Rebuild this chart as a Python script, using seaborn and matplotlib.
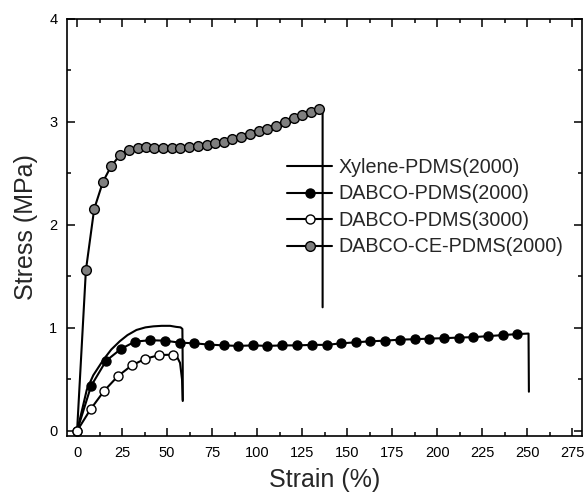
import matplotlib
matplotlib.use("Agg")
import matplotlib.pyplot as plt
import seaborn as sns
import pandas as pd
import numpy as np

# ---------------- data ----------------
xylene_strain = [0, 1.5, 3, 5.4, 9, 14.6, 19, 23.7, 28, 33, 38, 42.4, 47, 51.7, 55, 57.5, 58.5, 58.7, 58.7]
xylene_stress = [0, 0.11, 0.22, 0.40, 0.54, 0.69, 0.79, 0.87, 0.93, 0.98, 1.005, 1.015, 1.02, 1.02, 1.01, 1.005, 0.99, 0.6, 0.29]

dabco2000_strain = [0, 7.8, 16.1, 24.4, 32.2, 40.6, 48.7, 56.9, 65.2, 73.1, 81.5, 89.4, 97.8, 105.7,
                    114.0, 122.2, 130.6, 138.7, 146.7, 155.0, 163.0, 171.3, 179.4, 187.8, 195.7,
                    203.9, 212.0, 220.2, 228.2, 236.5, 244.6]
dabco2000_stress = [0, 0.437, 0.68, 0.796, 0.867, 0.88, 0.876, 0.857, 0.85, 0.838, 0.83, 0.825, 0.83, 0.825,
                    0.83, 0.83, 0.835, 0.835, 0.85, 0.86, 0.87, 0.876, 0.886, 0.89, 0.896,
                    0.90, 0.906, 0.91, 0.92, 0.93, 0.94]
dabco2000_tail_strain = [250.8, 251.0]
dabco2000_tail_stress = [0.945, 0.38]

dabco3000_strain = [0, 7.5, 15.1, 22.6, 30.3, 37.9, 45.6, 53.2]
dabco3000_stress = [0, 0.21, 0.39, 0.53, 0.635, 0.70, 0.736, 0.74]
dabco3000_tail_strain = [55.5, 57.2, 58.3, 58.7]
dabco3000_tail_stress = [0.72, 0.66, 0.50, 0.30]

ce_head_strain = [0]
ce_head_stress = [0]
ce_strain = [4.9, 9.5, 14.4, 18.9, 23.9, 28.9, 33.7, 38.3, 43.0, 47.9, 52.5, 57.4, 62.4, 67.2,
             72.0, 76.7, 81.7, 86.3, 91.3, 96.1, 100.9, 105.7, 110.7, 115.6, 120.4, 125.0, 129.8, 134.6]
ce_stress = [1.56, 2.155, 2.42, 2.57, 2.68, 2.73, 2.75, 2.755, 2.75, 2.745, 2.745, 2.75, 2.755, 2.77,
             2.78, 2.80, 2.81, 2.83, 2.85, 2.88, 2.91, 2.93, 2.96, 3.00, 3.04, 3.07, 3.10, 3.13]
ce_tail_strain = [136.4, 136.4]
ce_tail_stress = [3.13, 1.2]

labels = ["Xylene-PDMS(2000)", "DABCO-PDMS(2000)", "DABCO-PDMS(3000)", "DABCO-CE-PDMS(2000)"]
x_ticks = [0, 25, 50, 75, 100, 125, 150, 175, 200, 225, 250, 275]
y_ticks = [0, 1, 2, 3, 4]

# ---------------- style ----------------
sns.set_theme(style="ticks")
plt.rcParams["font.family"] = ["Liberation Sans", "DejaVu Sans"]

fig = plt.figure(figsize=(5.87, 4.97), dpi=100)
ax = fig.add_axes([67 / 587, 1 - 436 / 497, (582 - 67) / 587, (436 - 19) / 497])

def series(xs, ys):
    return pd.DataFrame({"strain": xs, "stress": ys})

lw = 1.5
ms = 6.5

# Xylene (line only)
sns.lineplot(data=series(xylene_strain, xylene_stress), x="strain", y="stress", ax=ax,
             sort=False, estimator=None, color="black", lw=lw, label=labels[0], legend=False)

# DABCO-PDMS(2000)
d1 = series(dabco2000_strain + dabco2000_tail_strain, dabco2000_stress + dabco2000_tail_stress)
sns.lineplot(data=d1, x="strain", y="stress", ax=ax, sort=False, estimator=None,
             color="black", lw=lw, marker="o", ms=ms, mfc="black", mec="black", mew=1.0,
             markevery=list(range(len(dabco2000_strain))), label=labels[1], legend=False)

# DABCO-CE-PDMS(2000)
d3 = series(ce_head_strain + ce_strain + ce_tail_strain, ce_head_stress + ce_stress + ce_tail_stress)
sns.lineplot(data=d3, x="strain", y="stress", ax=ax, sort=False, estimator=None,
             color="black", lw=lw, marker="o", ms=ms + 0.5, mfc="#7f7f7f", mec="black", mew=1.0,
             markevery=list(range(len(ce_head_strain), len(ce_head_strain) + len(ce_strain))),
             label=labels[3], legend=False)

# DABCO-PDMS(3000)
d2 = series(dabco3000_strain + dabco3000_tail_strain, dabco3000_stress + dabco3000_tail_stress)
sns.lineplot(data=d2, x="strain", y="stress", ax=ax, sort=False, estimator=None,
             color="black", lw=lw, marker="o", ms=ms, mfc="white", mec="black", mew=1.0,
             markevery=list(range(len(dabco3000_strain))), label=labels[2], legend=False)

ax.set_xlim(-5.6, 280.5)
ax.set_ylim(-0.05, 4.0)
ax.set_xticks(x_ticks)
ax.set_yticks(y_ticks)
ax.set_xticks(np.arange(12.5, 280, 25), minor=True)
ax.set_yticks(np.arange(0.5, 4, 1.0), minor=True)
ax.tick_params(which="both", direction="in", top=True, right=True, width=1.1, colors="black",
               labelsize=10.5)
ax.tick_params(which="major", length=6, pad=7)
ax.tick_params(which="minor", length=3)
for s in ax.spines.values():
    s.set_linewidth(1.2)
    s.set_color("black")

ax.set_xlabel("Strain (%)", fontsize=18, labelpad=6)
ax.set_ylabel("Stress (MPa)", fontsize=18, labelpad=8)

handles = {l.get_label(): l for l in ax.get_lines()}
leg = ax.legend([handles[l] for l in labels], labels, loc="upper left",
                bbox_to_anchor=(287 / 587, 1 - 158 / 497), bbox_transform=fig.transFigure,
                frameon=False, fontsize=14.2, handlelength=2.3, handletextpad=0.3,
                borderpad=0, borderaxespad=0, labelspacing=0.38)

fig.savefig("out.png", dpi=100)
